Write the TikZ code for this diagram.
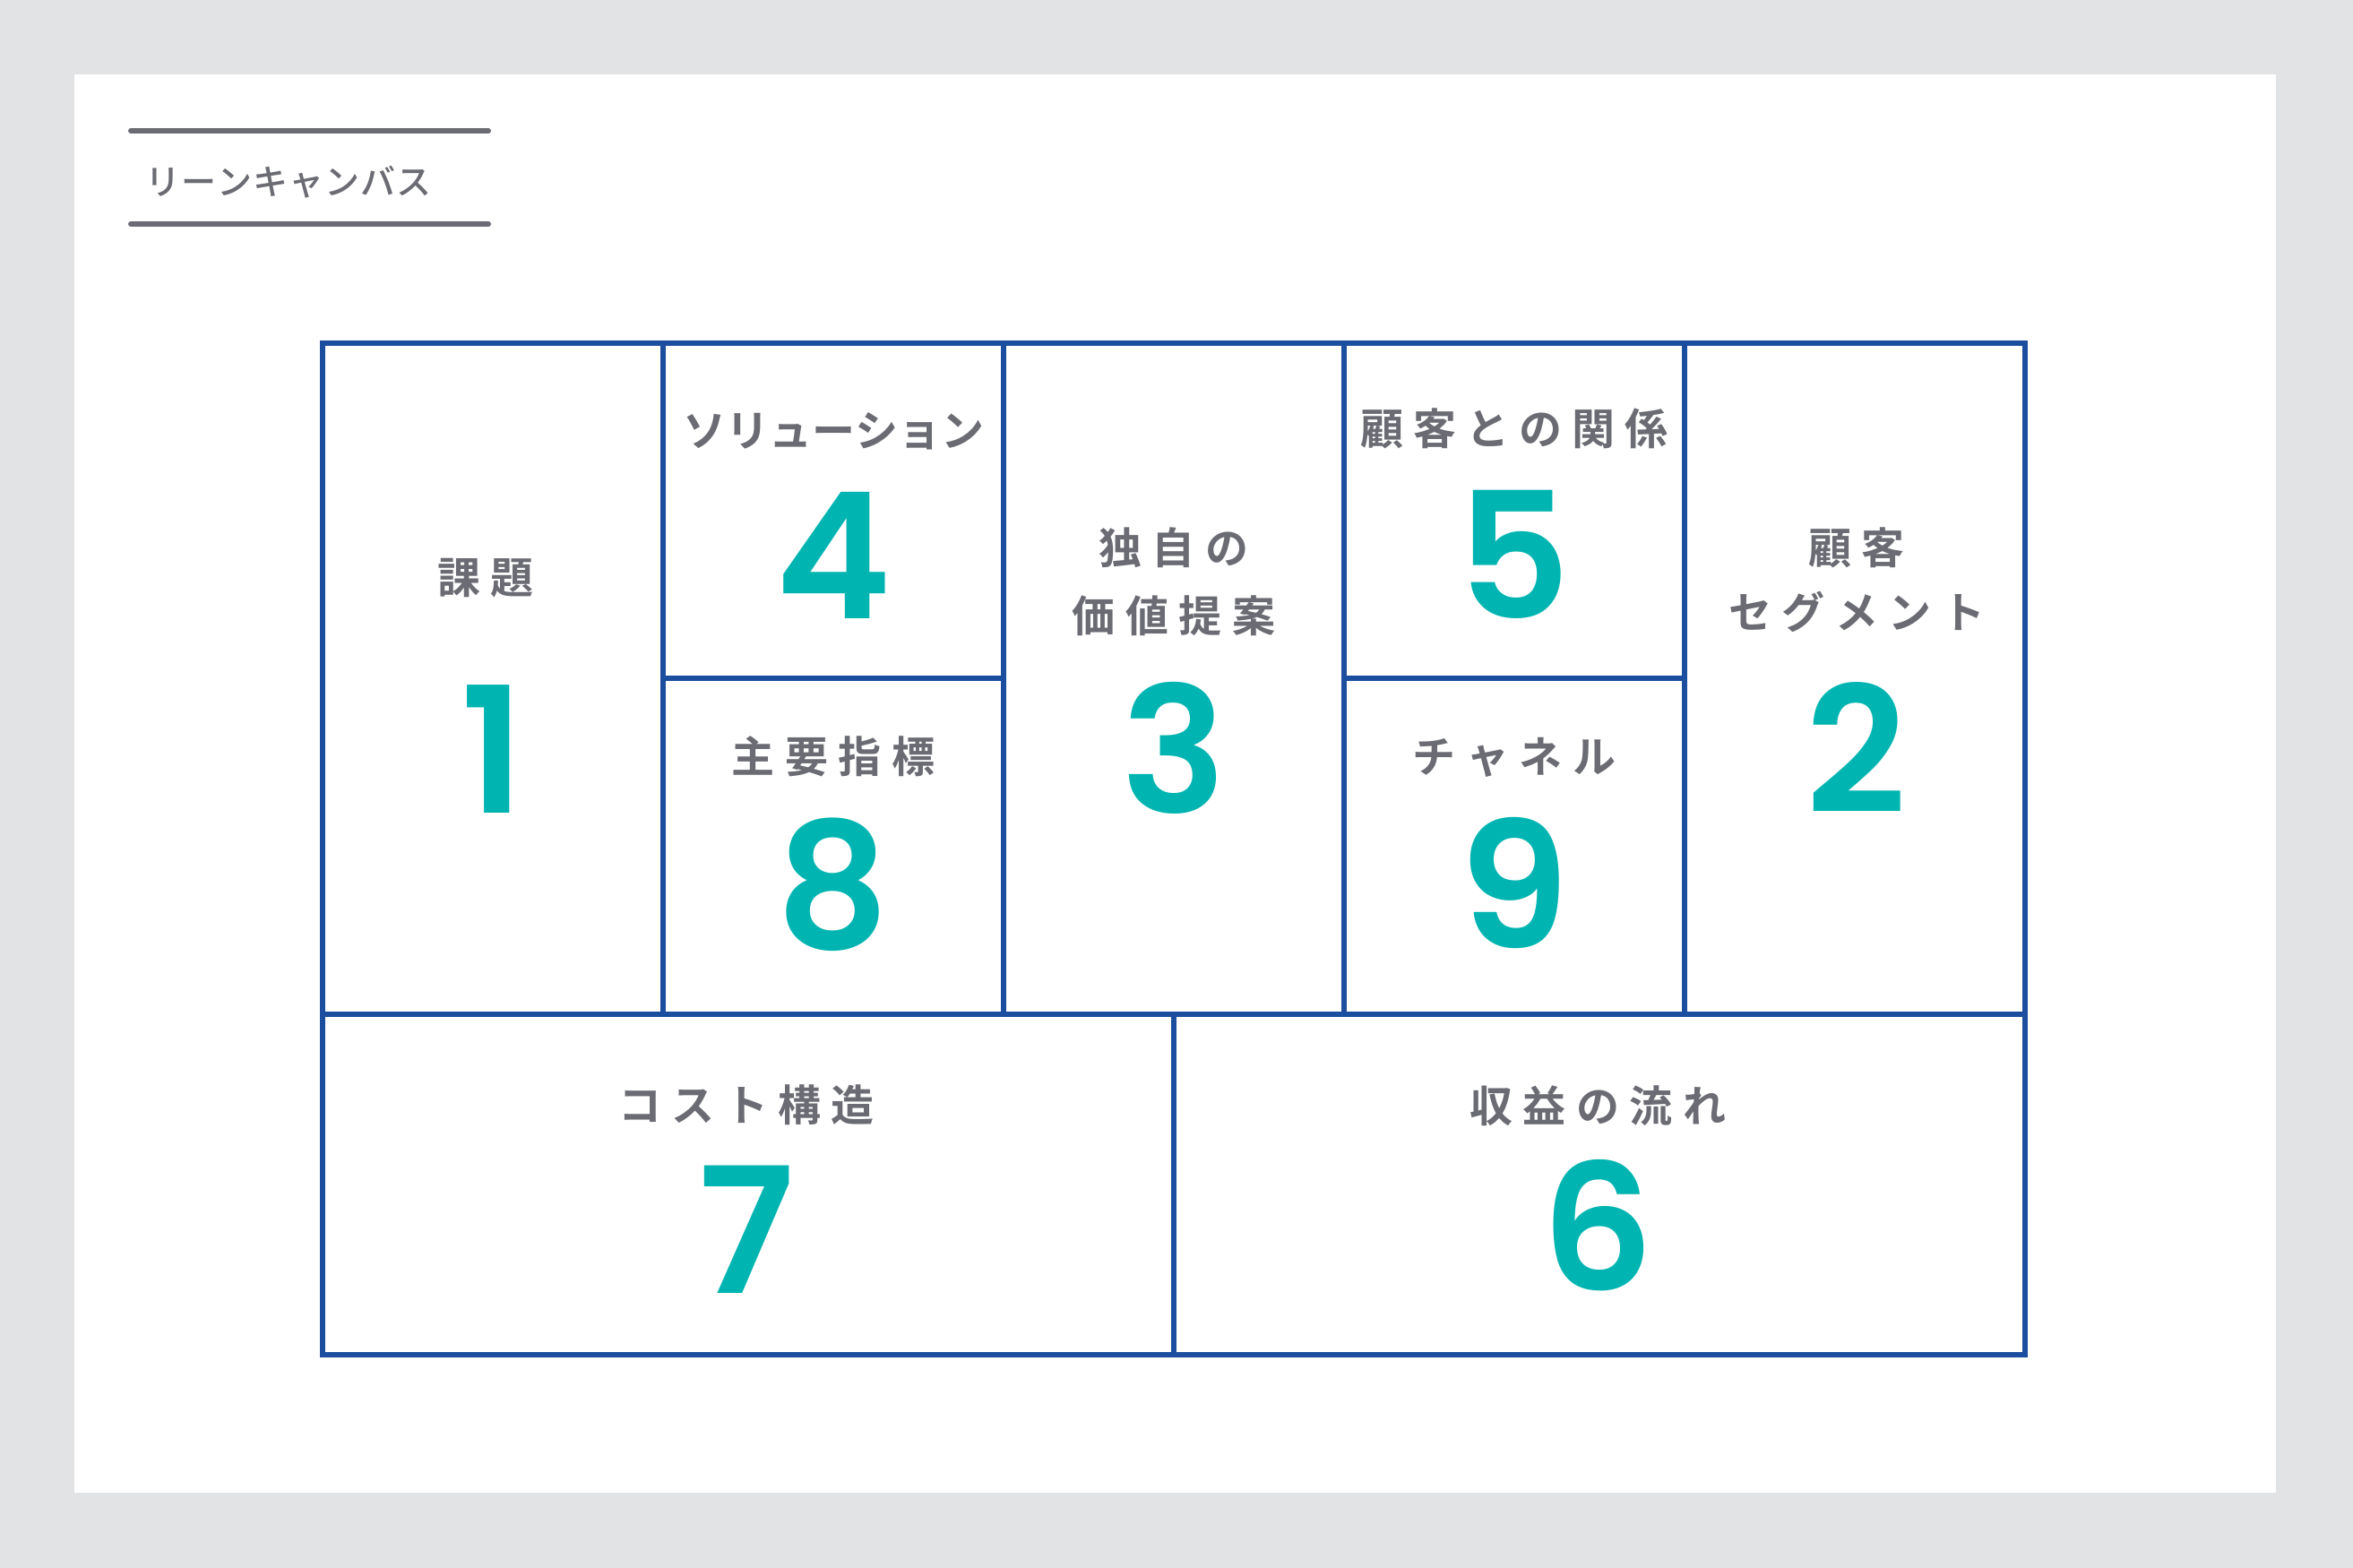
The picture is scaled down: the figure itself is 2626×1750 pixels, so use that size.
\documentclass[tikz,border=0pt]{standalone}
\usepackage{fontspec}
\newfontfamily\jpfont{Noto Sans CJK JP Bold}
\newfontfamily\jptitle{Noto Sans CJK JP Medium}
\newfontfamily\numfont{Poppins SemiBold}
\definecolor{bggray}{HTML}{E1E3E5}
\definecolor{frameblue}{HTML}{1B4E9E}
\definecolor{teal}{HTML}{00B5B1}
\definecolor{txtgray}{HTML}{6A6B73}
\newcommand\jpls[2]{{\def\lsk{#1}\jplsA#2\relax}}
\def\jplsA#1{#1\futurelet\jplsnext\jplsB}
\def\jplsB{\ifx\jplsnext\relax\expandafter\jplsEnd\else\kern\lsk\relax\expandafter\jplsA\fi}
\def\jplsEnd\relax{}
\begin{document}
\begin{tikzpicture}[x=1pt,y=-1pt,
  cell/.style={draw=frameblue,line width=6pt,inner sep=0pt,outer sep=0pt,anchor=north west},
  lbl/.style={inner sep=0pt,text=txtgray,font=\jpfont\fontsize{48}{48}\selectfont},
  num/.style={inner sep=0pt,anchor=base,text=teal,font=\numfont\fontsize{196}{196}\selectfont},
  titleline/.style={draw=txtgray,line width=6pt,line cap=round}]
\useasboundingbox (0,0) rectangle (2626,1750);
\fill[bggray] (0,0) rectangle (2626,1750);
\node[fill=white,inner sep=0pt,outer sep=0pt,anchor=north west,minimum width=2457pt,minimum height=1583pt] (panel) at (83,83) {};
% title
\coordinate (tla) at (146,146); \coordinate (tlb) at (545,146);
\coordinate (tlc) at (146,250); \coordinate (tld) at (545,250);
\draw[titleline] (tla) -- (tlb);
\draw[titleline] (tlc) -- (tld);
\node[inner sep=0pt,anchor=west,text=txtgray,font=\jptitle\fontsize{39}{39}\selectfont] (title) at (162,203) {\jpls{1pt}{リーンキャンバス}};
% cells
\node[cell,minimum width=380pt,minimum height=749pt] (c1) at (360,383) {};
\node[cell,minimum width=380pt,minimum height=374pt] (c4) at (740,383) {};
\node[cell,minimum width=380pt,minimum height=375pt] (c8) at (740,757) {};
\node[cell,minimum width=380pt,minimum height=749pt] (c3) at (1120,383) {};
\node[cell,minimum width=380pt,minimum height=374pt] (c5) at (1500,383) {};
\node[cell,minimum width=380pt,minimum height=375pt] (c9) at (1500,757) {};
\node[cell,minimum width=380pt,minimum height=749pt] (c2) at (1880,383) {};
\node[cell,minimum width=950pt,minimum height=380pt] (c7) at (360,1132) {};
\node[cell,minimum width=950pt,minimum height=380pt] (c6) at (1310,1132) {};
% labels
\node[lbl] (l1) at (542,645) {\jpls{11.5pt}{課題}};
\node[num] (n1) at (550,907) {1};
\node[lbl] (l4) at (930,481) {\jpls{0pt}{ソリューション}};
\node[num] (n4) at (930,690) {4};
\node[lbl] (l8) at (930,844) {\jpls{11.5pt}{主要指標}};
\node[num] (n8) at (930,1058) {8};
\node[lbl] (l3a) at (1310,611) {\jpls{11.5pt}{独自の}};
\node[lbl] (l3b) at (1310,687) {\jpls{11.5pt}{価値提案}};
\node[num] (n3) at (1310,907) {3};
\node[lbl] (l5) at (1690,478) {\jpls{11pt}{顧客との関係}};
\node[num] (n5) at (1690,690) {5};
\node[lbl] (l9) at (1690,845) {\jpls{11.5pt}{チャネル}};
\node[num] (n9) at (1690,1058) {9};
\node[lbl] (l2a) at (2072,611) {\jpls{11.5pt}{顧客}};
\node[lbl] (l2b) at (2072,683) {\jpls{11.5pt}{セグメント}};
\node[num] (n2) at (2072,907) {2};
\node[lbl] (l7) at (833,1233) {\jpls{11.5pt}{コスト構造}};
\node[num] (n7) at (833,1443) {7};
\node[lbl] (l6) at (1783,1234) {\jpls{11.5pt}{収益の流れ}};
\node[num] (n6) at (1783,1440) {6};
\end{tikzpicture}
\end{document}
